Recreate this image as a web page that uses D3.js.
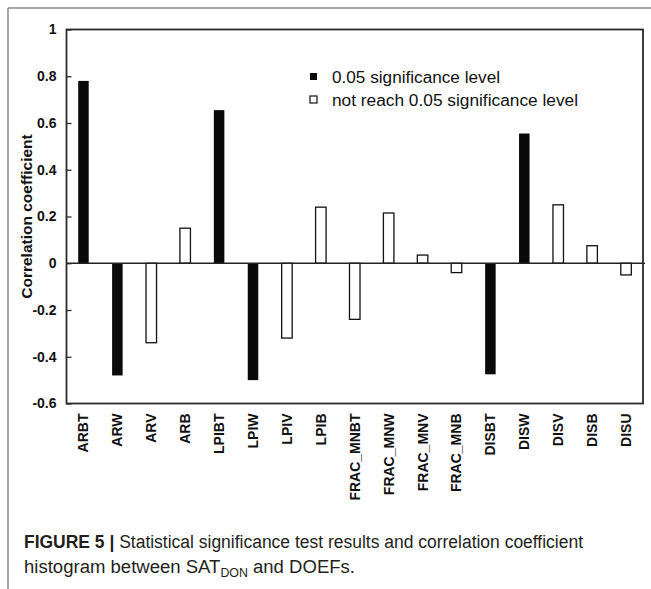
<!DOCTYPE html>
<html>
<head>
<meta charset="utf-8">
<script src="https://cdn.jsdelivr.net/npm/d3@7"></script>
<style>
  html, body { margin: 0; padding: 0; background: #fff; }
  svg { display: block; }
</style>
</head>
<body>
<svg id="chart" width="651" height="589"></svg>
<script>
// ---- data ----
const categories = ["ARBT","ARW","ARV","ARB","LPIBT","LPIW","LPIV","LPIB","FRAC_MNBT","FRAC_MNW","FRAC_MNV","FRAC_MNB","DISBT","DISW","DISV","DISB","DISU"];
const values = [0.78,-0.48,-0.34,0.15,0.655,-0.50,-0.32,0.24,-0.24,0.215,0.035,-0.04,-0.475,0.555,0.25,0.075,-0.05];
const significant = [true,true,false,false,true,true,false,false,false,false,false,false,true,true,false,false,false];
const yTicks = [-0.6,-0.4,-0.2,0,0.2,0.4,0.6,0.8,1];
const yTickLabels = ["-0.6","-0.4","-0.2","0","0.2","0.4","0.6","0.8","1"];
const legendLabels = ["0.05 significance level","not reach 0.05 significance level"];
const yTitle = "Correlation coefficient";

const svg = d3.select("#chart");
const L = 66.5, R = 643, T = 29.5, B = 403.5;

// outer gray figure border (top and left)
svg.append("line").attr("x1",8).attr("y1",8).attr("x2",651).attr("y2",8).attr("stroke","#8a8a8a").attr("stroke-width",1.5);
svg.append("line").attr("x1",8).attr("y1",8).attr("x2",8).attr("y2",589).attr("stroke","#8a8a8a").attr("stroke-width",1.5);

const x = d3.scaleBand().domain(categories).range([L, R]).paddingInner(0.69).paddingOuter(0.345);
const y = d3.scaleLinear().domain([-0.6, 1]).range([B, T]);

// bars
svg.append("g").selectAll("rect").data(categories).join("rect")
  .attr("x", (d) => x(d))
  .attr("width", x.bandwidth())
  .attr("y", (d,i) => Math.min(y(values[i]), y(0)))
  .attr("height", (d,i) => Math.abs(y(values[i]) - y(0)))
  .attr("fill", (d,i) => significant[i] ? "#0a0a0a" : "#fff")
  .attr("stroke", "#111")
  .attr("stroke-width", (d,i) => significant[i] ? 0 : 1.3);

// zero line
svg.append("line").attr("x1", L).attr("x2", R + 2).attr("y1", y(0)).attr("y2", y(0))
  .attr("stroke","#222").attr("stroke-width",1.6);

// frame
svg.append("rect").attr("x",L).attr("y",T).attr("width",R-L).attr("height",B-T)
  .attr("fill","none").attr("stroke","#2a2a2a").attr("stroke-width",1.8);

// y axis
const yAxis = d3.axisLeft(y).tickValues(yTicks).tickSize(-5).tickPadding(10)
  .tickFormat((d, i) => yTickLabels[i]);
const gy = svg.append("g").attr("transform", `translate(${L},0)`).call(yAxis);
gy.select(".domain").remove();
gy.selectAll(".tick line").attr("stroke","#2a2a2a").attr("stroke-width",1.3);
gy.selectAll(".tick text").attr("font-family","'Liberation Sans', Arial, sans-serif")
  .attr("font-weight","bold").attr("font-size","14px").attr("fill","#111");

// x axis labels
const xAxis = d3.axisBottom(x).tickSize(0).tickPadding(0);
const gx = svg.append("g").attr("transform", `translate(0,${B})`).call(xAxis);
gx.select(".domain").remove();
gx.selectAll(".tick text")
  .attr("font-family","'Liberation Sans', Arial, sans-serif")
  .attr("font-weight","bold").attr("font-size","14px").attr("fill","#111")
  .attr("text-anchor","end")
  .attr("dy", null)
  .attr("transform","translate(5,10) rotate(-90)")
  .attr("x", 0).attr("y", 0);

// y title
svg.append("text").attr("transform", `translate(32,${(T+B)/2}) rotate(-90)`)
  .attr("text-anchor","middle")
  .attr("font-family","'Liberation Sans', Arial, sans-serif")
  .attr("font-weight","bold").attr("font-size","15.5px").attr("fill","#111")
  .text(yTitle);

// legend
const lg = svg.append("g");
legendLabels.forEach((lab, i) => {
  const yy = 73 + i * 23;
  lg.append("rect").attr("x", 310).attr("y", yy).attr("width", 7).attr("height", 7)
    .attr("fill", i === 0 ? "#0a0a0a" : "#fff").attr("stroke", "#111").attr("stroke-width", i === 0 ? 0 : 1.2);
  lg.append("text").attr("x", 332).attr("y", yy + 10)
    .attr("font-family","'Liberation Sans', Arial, sans-serif")
    .attr("font-size","16px").attr("fill","#111")
    .attr("textLength", i === 0 ? 168 : 246).attr("lengthAdjust","spacingAndGlyphs")
    .text(lab);
});

// caption
const cap1 = svg.append("text").attr("x", 24).attr("y", 548)
  .attr("font-family","'Liberation Sans', Arial, sans-serif").attr("font-size","18px").attr("fill","#231f20")
  .attr("textLength", 559).attr("lengthAdjust","spacingAndGlyphs");
cap1.append("tspan").attr("font-weight","bold").text("FIGURE 5 |");
cap1.append("tspan").text(" Statistical significance test results and correlation coefficient");

const cap2 = svg.append("text").attr("x", 24).attr("y", 573)
  .attr("font-family","'Liberation Sans', Arial, sans-serif").attr("font-size","18px").attr("fill","#231f20")
  .attr("textLength", 331).attr("lengthAdjust","spacingAndGlyphs");
cap2.append("tspan").text("histogram between SAT");
cap2.append("tspan").attr("font-size","12px").attr("dy", 4).text("DON");
cap2.append("tspan").attr("dy", -4).text(" and DOEFs.");
</script>
</body>
</html>
